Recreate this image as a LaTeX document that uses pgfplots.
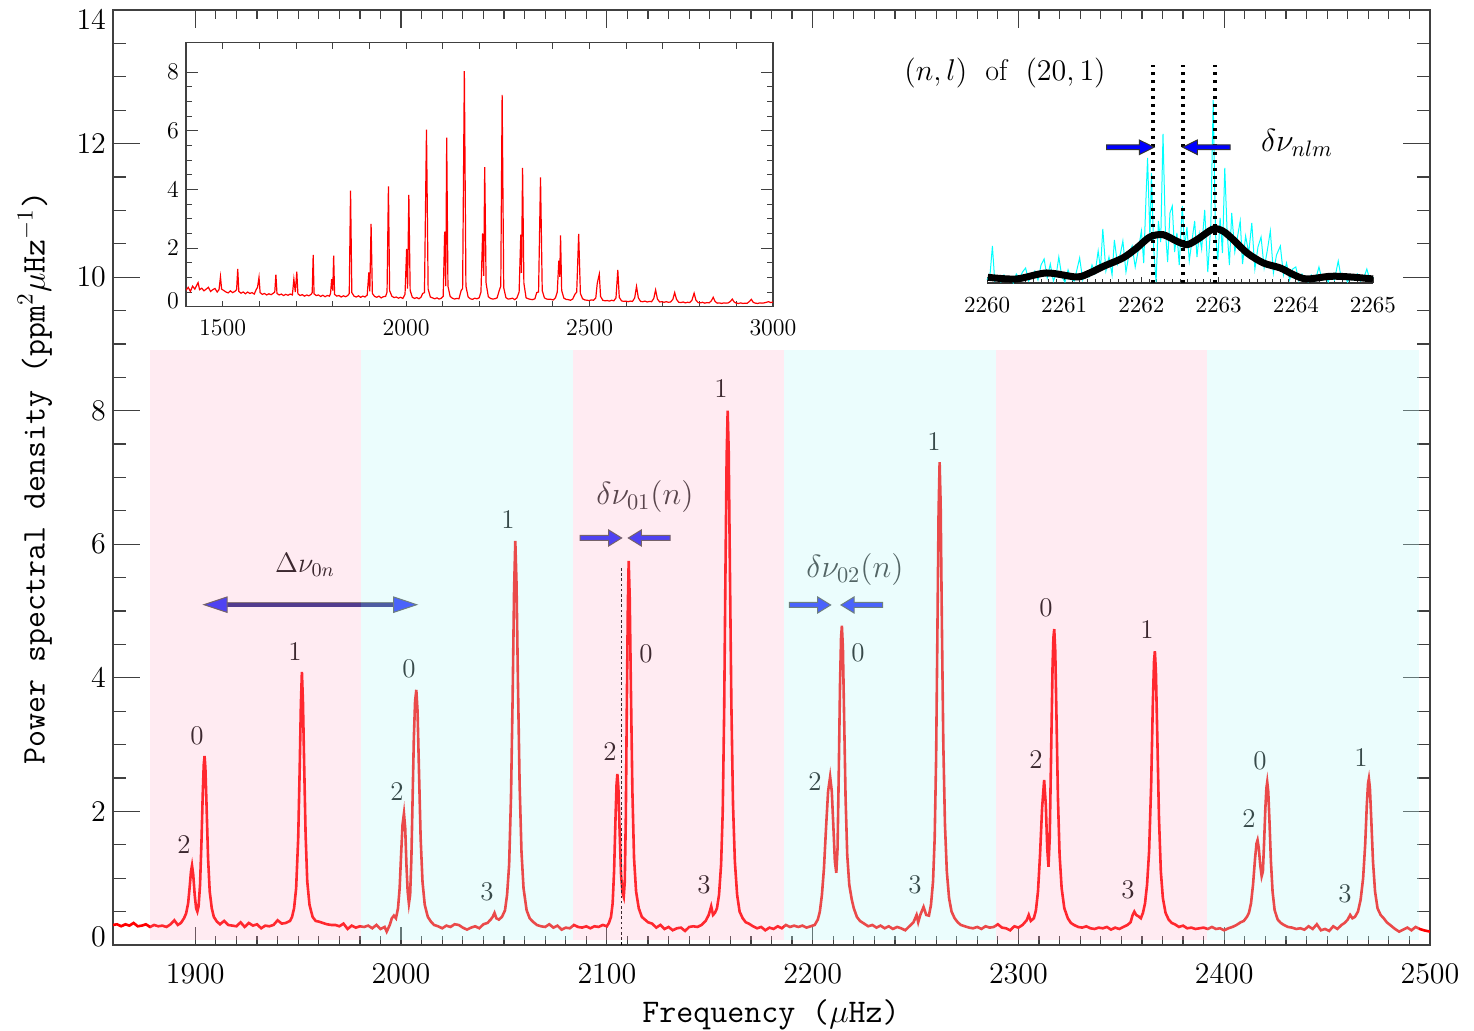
\RequirePackage{fix-cm}
\documentclass[border=0pt]{standalone}
\usepackage{pgfplots}
\pgfplotsset{compat=1.18}
\pgfplotsset{/pgf/number format/1000 sep={}}
\definecolor{pinkb}{RGB}{255,170,200}
\definecolor{cyanb}{RGB}{188,248,248}
\definecolor{arrblue}{RGB}{25,35,255}
\definecolor{navyb}{RGB}{30,25,125}
\definecolor{cyanl}{RGB}{0,255,255}
\newcommand{\rarr}[4]{\filldraw[fill=#4,draw=black!70,line width=0.5pt] (#1,#3-2.5) -- (#2-13,#3-2.5) -- (#2-13,#3-8) -- (#2,#3) -- (#2-13,#3+8) -- (#2-13,#3+2.5) -- (#1,#3+2.5) -- cycle;}
\newcommand{\larr}[4]{\filldraw[fill=#4,draw=black!70,line width=0.5pt] (#1,#3-2.5) -- (#2+13,#3-2.5) -- (#2+13,#3-8) -- (#2,#3) -- (#2+13,#3+8) -- (#2+13,#3+2.5) -- (#1,#3+2.5) -- cycle;}
\newcommand{\pk}{\fontsize{13.5}{16}\selectfont}
\begin{document}
\begin{tikzpicture}
\path[use as bounding box] (-56.5pt,-43pt) rectangle (680.5pt,472.5pt);
% ---------- annotations in pixel coordinates (under the bands) ----------
\begin{scope}[x=0.5pt,y=-0.5pt,shift={(-56.5pt,472.5pt)}]
\foreach \px/\py/\t in {197/736/0,184/845/2,295/652/1,409/669/0,397/792/2,487/892/3,508/520/1,610/752/2,646/654/0,704/885/3,721/389/1,815/782/2,858/653/0,915/885/3,934/442/1,1046/608/0,1036/760/2,1128/890/3,1147/630/1,1260/761/0,1249/819/2,1345/894/3,1361/758/1}
  \node[font=\pk] at (\px,\py) {\t};
\node[font=\fontsize{14}{16}\selectfont] at (305,565) {$\Delta\nu_{0n}$};
\node[font=\fontsize{16}{18}\selectfont, text=black!85] at (645,497) {$\delta\nu_{01}(n)$};
\node[font=\fontsize{16}{18}\selectfont, text=black!85] at (855,570) {$\delta\nu_{02}(n)$};
% Delta nu double arrow
\draw[black!60, line width=2.8pt] (224,604.7) -- (397,604.7);
\draw[navyb, line width=1.9pt] (224,604.7) -- (397,604.7);
\filldraw[fill=arrblue,draw=black!70,line width=0.5pt] (204,604.7) -- (227,597) -- (227,612.4) -- cycle;
\filldraw[fill=arrblue,draw=black!70,line width=0.5pt] (416.7,604.7) -- (393.7,597) -- (393.7,612.4) -- cycle;
% small arrows
\rarr{580}{621.7}{538}{arrblue}
\larr{670}{628.3}{538}{arrblue}
\rarr{789.3}{830.7}{605}{arrblue}
\larr{882.7}{841}{605}{arrblue}
% axis labels
\node[rotate=90, font=\fontsize{16.5}{19}\selectfont\ttfamily] at (35,478) {Power spectral density (ppm$^2\mu$Hz$^{-1}$)};
\node[font=\fontsize{16.5}{19}\selectfont\ttfamily] at (771,1015) {Frequency ($\mu$Hz)};
\end{scope}
% ---------- main axis ----------
\begin{axis}[
  at={(0pt,0pt)}, anchor=south west,
  scale only axis, width=658.5pt, height=467.5pt,
  xmin=1860, xmax=2500, ymin=0, ymax=14,
  scaled ticks=false,
  xtick={1900,2000,...,2500},
  ytick={0,2,...,14},
  yticklabels={\raisebox{4pt}[\height][\depth]{$0$},$2$,$4$,$6$,$8$,$10$,$12$,\raisebox{-5pt}[\height][\depth]{$14$}},
  minor x tick num=9, minor y tick num=3,
  tick align=inside,
  major tick length=13.5pt, minor tick length=6.5pt,
  xtick style={/pgfplots/major tick length=9pt,/pgfplots/minor tick length=4.5pt},
  every tick/.style={black!75, line width=0.6pt},
  axis line style={black!75, line width=0.8pt},
  ticklabel style={font=\fontsize{15}{18}\selectfont},
  xticklabel style={yshift=-6pt},
]
\addplot[red, line width=1.3pt] coordinates {
(1860,0.30)(1862,0.31)(1864,0.28)(1866,0.31)(1868,0.29)(1870,0.33)(1872,0.28)(1874,0.29)(1876,0.31)(1878,0.27)
(1880,0.30)(1882,0.28)(1884,0.29)(1886,0.27)(1888,0.31)(1889.8,0.37)(1891.5,0.30)(1893,0.33)(1894.5,0.40)(1895.5,0.47)
(1896.5,0.62)(1897.3,0.88)(1897.9,1.10)(1898.4,1.19)(1899.0,1.05)(1899.7,0.75)(1900.4,0.55)(1901.0,0.50)(1901.6,0.58)(1902.3,0.90)
(1903.0,1.55)(1903.6,2.25)(1904.1,2.70)(1904.5,2.83)(1904.9,2.65)(1905.5,2.05)(1906.2,1.30)(1907.0,0.80)(1908.0,0.55)(1909.0,0.42)
(1910.5,0.35)(1912,0.31)(1914,0.36)(1916,0.30)(1918,0.29)(1920,0.28)(1922,0.34)(1924,0.27)(1926,0.33)(1928,0.29)
(1930,0.31)(1932,0.25)(1934,0.29)(1936,0.28)(1938,0.30)(1940,0.37)(1942,0.32)(1944,0.33)(1946,0.36)(1947,0.42)
(1948,0.55)(1949,0.85)(1950,1.60)(1950.7,2.60)(1951.3,3.60)(1951.8,4.09)(1952.3,3.65)(1952.9,2.70)(1953.6,1.65)(1954.4,0.95)
(1955.5,0.60)(1957,0.42)(1958.5,0.36)(1960,0.35)(1962,0.33)(1964,0.31)(1966,0.30)(1968,0.30)(1970,0.28)(1972,0.32)
(1974,0.24)(1976,0.29)(1978,0.26)(1980,0.28)(1982,0.27)(1984,0.29)(1986,0.25)(1988,0.30)(1990,0.24)(1992,0.27)
(1993,0.20)(1994.5,0.30)(1995.5,0.40)(1996.5,0.44)(1997.5,0.40)(1998.5,0.55)(1999.3,0.85)(2000.0,1.35)(2000.7,1.80)(2001.4,1.97)
(2002.0,1.75)(2002.6,1.20)(2003.2,0.80)(2003.8,0.62)(2004.4,0.75)(2005.0,1.30)(2005.6,2.20)(2006.2,3.10)(2006.8,3.65)(2007.4,3.82)
(2008.0,3.50)(2008.7,2.60)(2009.5,1.60)(2010.4,0.95)(2011.5,0.60)(2013,0.42)(2014.5,0.35)(2016,0.30)(2018,0.28)(2020,0.25)
(2022,0.29)(2024,0.27)(2026,0.31)(2028,0.30)(2030,0.26)(2032,0.23)(2034,0.26)(2036,0.28)(2038,0.25)(2040,0.31)
(2042,0.33)(2043.5,0.38)(2044.5,0.42)(2045.4,0.48)(2046.3,0.40)(2047.5,0.38)(2049,0.42)(2050.5,0.52)(2051.5,0.75)(2052.5,1.20)
(2053.4,2.20)(2054.2,3.70)(2054.9,5.30)(2055.5,6.05)(2056.1,5.40)(2056.8,3.90)(2057.6,2.40)(2058.5,1.40)(2059.5,0.85)(2061,0.52)
(2062.5,0.40)(2064,0.35)(2066,0.30)(2068,0.28)(2070,0.27)(2072,0.31)(2074,0.26)(2076,0.29)(2078,0.23)(2080,0.26)
(2082,0.25)(2084,0.30)(2086,0.27)(2088,0.26)(2090,0.28)(2092,0.25)(2094,0.28)(2096,0.27)(2098,0.30)(2100,0.28)
(2101,0.33)(2102,0.42)(2102.8,0.62)(2103.5,1.10)(2104.2,1.90)(2104.7,2.40)(2105.1,2.56)(2105.6,2.35)(2106.2,1.70)(2106.9,1.05)
(2107.6,0.78)(2108.2,0.72)(2108.7,0.95)(2109.2,1.90)(2109.7,3.60)(2110.2,5.10)(2110.6,5.75)(2111.1,5.20)(2111.7,3.80)(2112.4,2.30)
(2113.2,1.30)(2114.2,0.80)(2115.5,0.55)(2117,0.42)(2118.5,0.38)(2120,0.34)(2122,0.32)(2124,0.26)(2126,0.30)(2128,0.24)
(2130,0.27)(2132,0.22)(2134,0.25)(2136,0.26)(2138,0.21)(2140,0.27)(2142,0.28)(2144,0.27)(2146,0.30)(2148,0.36)
(2149.5,0.45)(2150.7,0.58)(2151.6,0.45)(2152.5,0.48)(2153.5,0.55)(2154.5,0.75)(2155.5,1.20)(2156.3,2.00)(2157.0,3.50)(2157.6,5.50)
(2158.2,7.30)(2158.7,8.00)(2159.2,7.40)(2159.8,5.60)(2160.5,3.60)(2161.3,2.10)(2162.2,1.25)(2163.3,0.75)(2164.5,0.50)(2166,0.40)
(2167.5,0.34)(2169,0.32)(2171,0.28)(2173,0.25)(2175,0.27)(2177,0.22)(2179,0.26)(2181,0.24)(2183,0.28)(2185,0.25)
(2187,0.30)(2189,0.27)(2191,0.29)(2193,0.27)(2195,0.29)(2197,0.26)(2199,0.28)(2201,0.30)(2202.5,0.38)(2203.5,0.50)
(2204.5,0.75)(2205.5,1.15)(2206.5,1.75)(2207.5,2.30)(2208.5,2.52)(2209.3,2.30)(2210.1,1.75)(2210.8,1.25)(2211.5,1.08)(2212.1,1.45)
(2212.7,2.60)(2213.3,3.90)(2213.8,4.60)(2214.2,4.78)(2214.7,4.45)(2215.3,3.40)(2216.0,2.20)(2216.8,1.35)(2217.8,0.90)(2219,0.68)
(2220,0.55)(2221.5,0.42)(2223,0.36)(2225,0.32)(2227,0.28)(2229,0.30)(2231,0.26)(2233,0.29)(2235,0.25)(2237,0.28)
(2239,0.24)(2241,0.27)(2243,0.25)(2245,0.22)(2247,0.28)(2249,0.34)(2250.5,0.45)(2251.3,0.34)(2252.3,0.45)(2253.9,0.57)
(2255.2,0.45)(2256.5,0.44)(2257.5,0.60)(2258.5,0.95)(2259.3,1.60)(2260.0,2.80)(2260.6,4.60)(2261.2,6.50)(2261.7,7.23)(2262.2,6.60)
(2262.8,4.80)(2263.5,3.00)(2264.3,1.80)(2265.2,1.10)(2266.3,0.70)(2267.5,0.50)(2269,0.40)(2270.5,0.34)(2272,0.30)(2274,0.28)
(2276,0.26)(2278,0.25)(2280,0.27)(2282,0.24)(2284,0.28)(2286,0.26)(2288,0.27)(2290,0.31)(2292,0.26)(2294,0.25)
(2296,0.22)(2298,0.28)(2300,0.26)(2302,0.30)(2304,0.37)(2305,0.45)(2306,0.36)(2307.5,0.40)(2308.5,0.52)(2309.5,0.80)
(2310.5,1.35)(2311.5,2.05)(2312.5,2.47)(2313.3,2.10)(2314.0,1.45)(2314.6,1.17)(2315.2,1.60)(2315.9,2.90)(2316.6,4.20)(2317.0,4.60)
(2317.4,4.73)(2317.9,4.40)(2318.5,3.40)(2319.2,2.20)(2320.0,1.35)(2321,0.85)(2322.3,0.55)(2324,0.40)(2325.5,0.33)(2327,0.30)
(2329,0.27)(2331,0.26)(2333,0.28)(2335,0.25)(2337,0.24)(2339,0.26)(2341,0.25)(2343,0.27)(2345,0.23)(2347,0.26)
(2349,0.24)(2351,0.27)(2353,0.30)(2354.5,0.34)(2355.5,0.45)(2356.3,0.50)(2357.2,0.45)(2358.3,0.43)(2359.5,0.40)(2360.5,0.48)
(2361.5,0.62)(2362.5,0.90)(2363.5,1.40)(2364.5,2.40)(2365.3,3.60)(2365.9,4.25)(2366.3,4.40)(2366.8,4.10)(2367.5,3.10)(2368.3,1.90)
(2369.2,1.10)(2370.2,0.70)(2371.5,0.48)(2373,0.38)(2374.5,0.33)(2376,0.31)(2378,0.27)(2380,0.29)(2382,0.25)(2384,0.26)
(2386,0.24)(2388,0.25)(2390,0.26)(2392,0.24)(2394,0.27)(2396,0.24)(2398,0.25)(2400,0.22)(2402,0.25)(2404,0.27)
(2406,0.30)(2408,0.34)(2409.5,0.36)(2411,0.42)(2412,0.48)(2413,0.62)(2414,0.90)(2415,1.30)(2415.7,1.52)(2416.2,1.57)
(2416.8,1.45)(2417.5,1.20)(2418.2,1.03)(2418.8,1.10)(2419.4,1.55)(2420.0,2.05)(2420.5,2.35)(2420.9,2.44)(2421.4,2.30)(2422.0,1.85)
(2422.7,1.25)(2423.5,0.80)(2424.5,0.52)(2426,0.38)(2427.5,0.33)(2429,0.30)(2431,0.27)(2433,0.26)(2435,0.24)(2437,0.25)
(2439,0.23)(2441,0.28)(2443,0.24)(2445,0.31)(2447,0.22)(2449,0.24)(2451,0.21)(2453,0.28)(2455,0.24)(2457,0.30)
(2458.5,0.33)(2460,0.38)(2461.2,0.45)(2462.3,0.40)(2463.5,0.42)(2465,0.50)(2466.3,0.68)(2467.5,1.00)(2468.5,1.50)(2469.3,2.10)
(2469.9,2.42)(2470.3,2.49)(2470.8,2.35)(2471.5,1.85)(2472.3,1.25)(2473.3,0.80)(2474.5,0.55)(2476,0.45)(2477.5,0.40)(2479,0.34)
(2481,0.29)(2483,0.24)(2485,0.20)(2487,0.23)(2489,0.26)(2491,0.22)(2493,0.27)(2495,0.24)(2497,0.22)(2500,0.20)
};
\draw[black, line width=0.5pt, dash pattern=on 1.3pt off 1.3pt] (axis cs:2107.2,0) -- (axis cs:2107.2,5.67);
% bands overlaid
\fill[pinkb, fill opacity=0.235] (axis cs:1877.8,0.07) rectangle (axis cs:1980.6,8.91);
\fill[cyanb, fill opacity=0.3]   (axis cs:1980.6,0.07) rectangle (axis cs:2083.4,8.91);
\fill[pinkb, fill opacity=0.235] (axis cs:2083.4,0.07) rectangle (axis cs:2186.2,8.91);
\fill[cyanb, fill opacity=0.3]   (axis cs:2186.2,0.07) rectangle (axis cs:2289.0,8.91);
\fill[pinkb, fill opacity=0.235] (axis cs:2289.0,0.07) rectangle (axis cs:2391.8,8.91);
\fill[cyanb, fill opacity=0.3]   (axis cs:2391.8,0.07) rectangle (axis cs:2494.6,8.91);
\end{axis}
% ---------- inset 1 ----------
\begin{axis}[
  at={(36.5pt,319.15pt)}, anchor=south west,
  scale only axis, width=293.5pt, height=132pt,
  xmin=1400, xmax=3000, ymin=0, ymax=9,
  scaled ticks=false,
  xtick={1500,2000,2500,3000}, ytick={0,2,4,6,8},
  yticklabels={\raisebox{3pt}[\height][\depth]{$0$},$2$,$4$,$6$,$8$},
  minor x tick num=4, minor y tick num=3,
  tick align=inside,
  major tick length=5.8pt, minor tick length=2.8pt,
  xtick style={/pgfplots/major tick length=3pt,/pgfplots/minor tick length=3pt},
  every tick/.style={black!75, line width=0.5pt},
  axis line style={black!75, line width=0.6pt},
  ticklabel style={font=\fontsize{12}{14}\selectfont},
  xticklabel style={yshift=-3pt},
]
\addplot[red, line width=0.6pt] coordinates {
(1400,0.56)(1406,0.66)(1412,0.52)(1418,0.70)(1424,0.60)(1430,0.75)(1433,0.82)(1437,0.58)(1443,0.63)(1449,0.54)
(1455,0.60)(1461,0.66)(1467,0.52)(1473,0.58)(1479,0.62)(1485,0.50)(1490,0.58)(1494,1.02)(1497,0.60)(1503,0.55)
(1509,0.50)(1515,0.47)(1521,0.54)(1527,0.48)(1533,0.52)(1538,0.58)(1541,1.29)(1544,0.52)(1550,0.46)(1556,0.50)
(1562,0.44)(1568,0.50)(1574,0.45)(1580,0.48)(1586,0.43)(1592,0.60)(1595,0.66)(1599,1.00)(1602,0.48)(1608,0.42)
(1614,0.45)(1620,0.40)(1626,0.44)(1632,0.41)(1638,0.46)(1642,0.50)(1645,1.09)(1648,0.45)(1654,0.40)(1660,0.43)
(1666,0.38)(1672,0.42)(1678,0.39)(1684,0.43)(1690,0.40)(1694,0.94)(1698,0.50)(1702,1.19)(1705,0.44)(1711,0.38)
(1717,0.41)(1723,0.36)(1729,0.40)(1735,0.37)(1741,0.42)(1744,0.48)(1746.7,1.77)(1749,0.44)(1755,0.38)(1761,0.40)
(1767,0.35)(1773,0.39)(1779,0.34)(1785,0.38)(1791,0.36)(1794,0.45)(1797,0.94)(1800,0.55)(1802.5,1.74)(1805,0.42)
(1811,0.36)(1817,0.38)(1823,0.33)(1829,0.37)(1835,0.34)(1841,0.38)(1845,0.45)(1848.5,3.96)(1852,0.48)(1858,0.36)
(1864,0.33)(1870,0.37)(1876,0.32)(1882,0.36)(1888,0.33)(1894,0.40)(1898.4,1.17)(1901,0.52)(1904.5,2.82)(1908,0.45)
(1914,0.35)(1920,0.32)(1926,0.36)(1932,0.30)(1938,0.34)(1944,0.35)(1948,0.50)(1951.8,4.10)(1955,0.55)(1961,0.36)
(1967,0.31)(1973,0.33)(1979,0.29)(1985,0.32)(1991,0.28)(1997,0.42)(2001.4,1.97)(2004,0.62)(2007.4,3.81)(2011,0.55)
(2017,0.32)(2023,0.28)(2029,0.31)(2035,0.27)(2041,0.33)(2045,0.45)(2050,0.48)(2055.5,6.04)(2060,0.60)(2066,0.33)
(2072,0.30)(2078,0.27)(2084,0.30)(2090,0.26)(2096,0.29)(2101,0.35)(2105.1,2.56)(2108,0.70)(2110.6,5.76)(2114,0.70)
(2120,0.35)(2126,0.29)(2132,0.26)(2138,0.28)(2144,0.27)(2150,0.55)(2154,0.62)(2158.7,8.03)(2163,0.70)(2169,0.33)
(2175,0.27)(2181,0.25)(2187,0.29)(2193,0.27)(2199,0.30)(2204,0.50)(2208.5,2.50)(2211.5,1.05)(2214.2,4.76)(2218,0.80)
(2224,0.34)(2230,0.28)(2236,0.26)(2242,0.27)(2248,0.30)(2254,0.56)(2258,0.70)(2261.7,7.22)(2266,0.65)(2272,0.31)
(2278,0.26)(2284,0.27)(2290,0.29)(2296,0.24)(2302,0.30)(2308,0.50)(2312.5,2.46)(2314.6,1.15)(2317.4,4.73)(2321,0.80)
(2327,0.30)(2333,0.27)(2339,0.25)(2345,0.24)(2351,0.27)(2356,0.48)(2361,0.50)(2366.3,4.41)(2371,0.55)(2377,0.30)
(2383,0.26)(2389,0.25)(2395,0.25)(2401,0.23)(2407,0.30)(2412,0.50)(2416.2,1.57)(2418.7,1.02)(2420.9,2.43)(2424,0.55)
(2430,0.29)(2436,0.25)(2442,0.24)(2448,0.22)(2454,0.26)(2460,0.42)(2465,0.50)(2470.3,2.48)(2475,0.45)(2481,0.27)
(2487,0.23)(2493,0.22)(2499,0.21)(2505,0.23)(2511,0.22)(2517,0.30)(2521,0.80)(2523.5,0.94)(2526.5,1.11)(2530,0.35)
(2536,0.22)(2542,0.20)(2548,0.21)(2554,0.19)(2560,0.22)(2566,0.20)(2572,0.30)(2577,1.25)(2581,0.32)(2587,0.20)
(2593,0.18)(2599,0.19)(2605,0.17)(2611,0.19)(2617,0.18)(2623,0.30)(2628,0.69)(2633,0.30)(2639,0.18)(2645,0.17)
(2651,0.19)(2657,0.16)(2663,0.18)(2669,0.17)(2675,0.28)(2680,0.57)(2685,0.26)(2691,0.16)(2697,0.17)(2703,0.15)
(2709,0.17)(2715,0.15)(2721,0.16)(2727,0.25)(2732,0.48)(2737,0.25)(2743,0.15)(2749,0.14)(2755,0.16)(2761,0.13)
(2767,0.15)(2773,0.14)(2779,0.22)(2785,0.46)(2790,0.22)(2796,0.14)(2802,0.13)(2808,0.15)(2814,0.12)(2820,0.14)
(2826,0.13)(2832,0.20)(2837,0.32)(2842,0.18)(2848,0.12)(2854,0.13)(2860,0.11)(2866,0.13)(2872,0.12)(2878,0.13)
(2884,0.18)(2889,0.26)(2894,0.16)(2900,0.12)(2906,0.11)(2912,0.13)(2918,0.11)(2924,0.12)(2930,0.12)(2936,0.18)
(2941,0.25)(2946,0.15)(2952,0.12)(2958,0.11)(2964,0.13)(2970,0.12)(2976,0.13)(2982,0.15)(2988,0.17)(2994,0.14)(3000,0.16)
};
\end{axis}
% ---------- inset 2 ----------
\begin{axis}[
  at={(437pt,331pt)}, anchor=south west,
  scale only axis, width=193pt, height=110pt,
  xmin=2260, xmax=2265, ymin=0, ymax=22,
  scaled ticks=false,
  axis x line*=bottom, hide y axis,
  xtick={2260,2261,2262,2263,2264,2265}, minor x tick num=9,
  tick align=inside, major tick length=3pt, minor tick length=1.8pt,
  every tick/.style={black!80, line width=0.4pt},
  axis line style={black!80, line width=0.6pt},
  ticklabel style={font=\fontsize{11.5}{14}\selectfont},
  xticklabel style={yshift=-4pt},
  clip=false,
]
\addplot[cyanl, line width=0.5pt] coordinates {
(2260.00,0.3)(2260.04,0.9)(2260.07,3.7)(2260.10,0.2)(2260.14,0.6)(2260.18,0.1)(2260.22,0.8)(2260.26,0.3)(2260.30,0.5)(2260.34,0.0)
(2260.38,0.9)(2260.42,0.4)(2260.46,1.1)(2260.50,1.5)(2260.54,0.2)(2260.58,0.7)(2260.62,1.2)(2260.66,0.3)(2260.70,1.8)(2260.74,2.4)
(2260.78,0.5)(2260.82,1.9)(2260.86,0.2)(2260.90,1.0)(2260.93,2.6)(2260.97,0.6)(2261.01,0.1)(2261.05,1.3)(2261.09,0.4)(2261.13,0.2)
(2261.17,1.5)(2261.20,2.5)(2261.24,0.3)(2261.28,1.1)(2261.32,0.6)(2261.36,1.8)(2261.40,1.0)(2261.44,3.2)(2261.47,1.4)(2261.50,5.4)
(2261.54,1.2)(2261.58,2.6)(2261.62,0.8)(2261.65,4.3)(2261.69,1.9)(2261.73,3.0)(2261.76,4.2)(2261.80,1.1)(2261.84,2.9)(2261.88,3.7)
(2261.92,1.6)(2261.96,3.3)(2262.00,5.2)(2262.03,2.0)(2262.06,8.6)(2262.08,12.5)(2262.11,4.6)(2262.13,11.0)(2262.16,3.4)(2262.19,0.1)
(2262.22,6.2)(2262.25,4.1)(2262.28,14.9)(2262.31,5.3)(2262.34,2.1)(2262.37,7.0)(2262.40,7.7)(2262.43,3.1)(2262.46,5.0)(2262.49,1.8)
(2262.53,7.7)(2262.56,3.5)(2262.59,5.6)(2262.62,2.2)(2262.66,4.5)(2262.69,6.2)(2262.72,2.6)(2262.75,4.9)(2262.78,3.4)(2262.82,7.3)
(2262.86,1.1)(2262.90,6.0)(2262.93,18.3)(2262.96,4.8)(2262.99,2.3)(2263.02,6.5)(2263.05,3.0)(2263.08,11.5)(2263.11,5.2)(2263.14,1.8)
(2263.17,7.0)(2263.21,3.1)(2263.24,4.4)(2263.28,6.2)(2263.31,1.9)(2263.35,4.7)(2263.39,3.0)(2263.43,6.0)(2263.47,1.4)(2263.51,3.6)
(2263.55,4.6)(2263.59,1.5)(2263.63,3.2)(2263.67,5.2)(2263.71,1.0)(2263.75,2.8)(2263.80,3.7)(2263.84,0.8)(2263.88,2.0)(2263.92,0.3)
(2263.96,1.4)(2264.00,1.6)(2264.04,0.2)(2264.08,0.9)(2264.12,0.4)(2264.16,0.1)(2264.20,0.8)(2264.25,0.2)(2264.30,1.6)(2264.34,0.3)
(2264.38,0.7)(2264.42,0.1)(2264.46,0.9)(2264.50,0.3)(2264.55,2.2)(2264.59,0.4)(2264.63,0.8)(2264.67,0.1)(2264.71,0.6)(2264.75,0.3)
(2264.80,0.9)(2264.84,0.2)(2264.88,0.5)(2264.92,1.4)(2264.96,0.3)(2265.00,0.6)
};
\addplot[black, line width=3.5pt, smooth, tension=0.5] coordinates {
(2260.01,0.57)(2260.38,0.40)(2260.77,1.00)(2261.16,0.60)(2261.33,1.00)(2261.51,1.67)(2261.76,2.50)(2261.94,3.50)
(2262.11,4.60)(2262.28,4.83)(2262.46,4.17)(2262.59,3.83)(2262.72,4.33)(2262.93,5.40)(2263.06,5.17)(2263.19,4.33)
(2263.37,3.00)(2263.58,2.00)(2263.80,1.50)(2263.97,0.83)(2264.14,0.40)(2264.45,0.67)(2264.71,0.60)(2265.00,0.40)
};
\draw[black, line width=1.8pt, dash pattern=on 1.6pt off 2.4pt] (axis cs:2262.15,0) -- (axis cs:2262.15,21.8);
\draw[black, line width=1.8pt, dash pattern=on 1.6pt off 2.4pt] (axis cs:2262.54,0) -- (axis cs:2262.54,21.8);
\draw[black, line width=1.8pt, dash pattern=on 1.6pt off 2.4pt] (axis cs:2262.95,0) -- (axis cs:2262.95,21.8);
\end{axis}
% ---------- inset 2 annotations ----------
\begin{scope}[x=0.5pt,y=-0.5pt,shift={(-56.5pt,472.5pt)}]
\filldraw[fill=blue,draw=black!80,line width=0.5pt] (1106.7,145) -- (1139.3,145) -- (1139.3,140) -- (1154,147.3) -- (1139.3,154.6) -- (1139.3,149.6) -- (1106.7,149.6) -- cycle;
\filldraw[fill=blue,draw=black!80,line width=0.5pt] (1230,145) -- (1197.4,145) -- (1197.4,140) -- (1182.7,147.3) -- (1197.4,154.6) -- (1197.4,149.6) -- (1230,149.6) -- cycle;
\node[font=\fontsize{15}{18}\selectfont] at (1005,73) {$(n,l)$ \ of \ $(20,1)$};
\node[font=\fontsize{16}{18}\selectfont] at (1297,143) {$\delta\nu_{nlm}$};
\end{scope}
\end{tikzpicture}
\end{document}
